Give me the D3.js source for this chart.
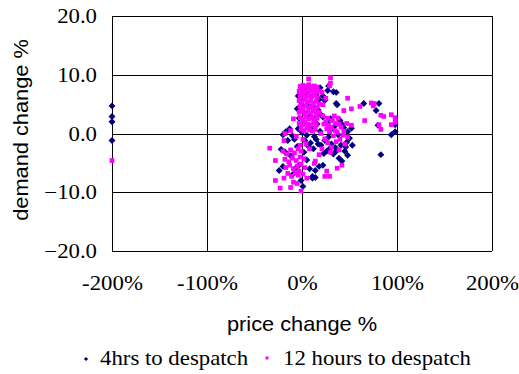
<!DOCTYPE html>
<html>
<head>
<meta charset="utf-8">
<script src="https://cdn.jsdelivr.net/npm/d3@7/dist/d3.min.js"></script>
<style>
  html, body { margin: 0; padding: 0; background: #fff; }
  svg { display: block; }
</style>
</head>
<body>
<svg id="chart" width="519" height="374"></svg>
<script>
// Tick values for both axes
const xTicks = [-200, -100, 0, 100, 200];
const yTicks = [20, 10, 0, -10, -20];

// Series names
const seriesNames = ["4hrs to despatch", "12 hours to despatch"];

// 4 hours to despatch: [price change %, demand change %]
const fourHours = [
  [-200, 4.7], [-200, 2.9], [-200, 2.0], [-200, -1.2],
  [0, 7.8], [3, 7.6], [8, 7.8], [13, 7.7], [19, 7.8], [27, 7.3], [28, 8.1], [33, 7.1], [36, 7.0],
  [0, 6.5], [-2, 5.5], [5, 6.8], [10, 6.2], [15, 6.6], [18, 5.8], [24, 5.6], [22, 6.4],
  [1, 4.6], [6, 5.0], [12, 4.4], [17, 4.0], [3, 3.4], [9, 3.0], [14, 2.5], [20, 3.2], [-3, 2.6],
  [2, 1.8], [7, 1.2], [11, 0.9], [16, 1.6], [-4, 0.8], [0, 0.2], [5, -0.3], [13, -0.5], [19, 0.4],
  [3, -1.2], [9, -1.6], [15, -1.0], [7, -2.2], [12, -2.6], [17, -1.8], [-5, 4.2], [-4, 6.4],
  [-17, 0.3], [-13, 0.8], [-10, -0.4], [-15, -1.2], [-8, -1.0], [-20, -0.2],
  [22, 2.8], [26, 1.9], [30, 2.5], [36, 5.1], [37, 4.9], [40, 2.2], [44, 1.0], [48, 0.3],
  [50, -0.8], [53, -2.0], [47, -1.5], [45, -3.0], [48, -3.7], [42, -4.7], [39, -4.2], [35, -2.4],
  [31, -1.8], [28, -0.6], [24, -1.2], [20, -2.0], [26, -3.0], [33, -3.5], [38, -0.2], [42, 1.6],
  [46, -2.3], [52, 0.9], [30, 0.6], [34, 1.2], [41, -2.0], [36, -3.0], [29, -2.6], [23, -3.4],
  [22, -5.4], [14, -6.3], [11, -7.3], [18, -5.6], [14, -7.5], [11, -7.6], [8, -6.0], [5, -4.5],
  [2, -3.2], [-1, -8.0], [-3, -5.4], [-7, -5.9], [-20, -5.6], [-24, -6.3], [-18, -3.1], [-22, -2.7],
  [-12, -3.8], [-5, -2.2], [1, -9.0], [-10, -7.0],
  [65, 5.1], [81, 5.1], [78, 3.9], [80, 1.4], [98, 1.5], [98, 0.3], [94, -0.2], [83, -3.6]
];

// 12 hours to despatch: [price change %, demand change %]
const twelveHours = [
  [-200, -4.6],
  [-2, 8.0], [1, 8.2], [4, 8.0], [7, 8.3], [10, 8.0], [13, 8.1], [16, 7.9], [7, 9.3],
  [-3, 7.2], [0, 7.4], [3, 7.1], [6, 7.5], [9, 7.2], [12, 7.4], [15, 7.0], [18, 7.2],
  [-2, 6.4], [1, 6.6], [4, 6.2], [7, 6.5], [10, 6.3], [13, 6.6], [16, 6.1],
  [-3, 5.6], [0, 5.3], [3, 5.7], [6, 5.4], [9, 5.6], [12, 5.2], [15, 5.5], [18, 5.0],
  [-2, 4.6], [1, 4.3], [4, 4.7], [7, 4.4], [10, 4.6], [13, 4.2], [16, 4.5],
  [-3, 3.6], [0, 3.8], [3, 3.4], [6, 3.7], [9, 3.5], [12, 3.8], [15, 3.3], [18, 3.6],
  [-2, 2.7], [1, 2.4], [4, 2.8], [7, 2.5], [10, 2.7], [13, 2.3], [16, 2.6],
  [-3, 1.7], [0, 1.5], [3, 1.9], [6, 1.6], [9, 1.4], [12, 1.8], [15, 1.5],
  [-1, 0.8], [2, 0.5], [5, 0.9], [8, 0.6], [11, 0.4], [14, 0.7],
  [30, 9.5], [30, 8.6], [29, 8.1], [22, 4.9], [25, 6.0], [21, 7.0],
  [-9, 2.5], [-12, 0.5], [-6, -0.5],
  [22, 3.0], [25, 2.0], [28, 1.4], [32, 2.2], [35, 1.7], [38, 2.6], [41, 1.1], [47, 1.7],
  [52, 1.4], [29, 0.3], [33, -0.4], [37, 0.2], [40, -1.0], [43, -0.3], [24, -0.9], [27, -1.6],
  [31, -2.3], [36, -1.4], [39, -2.8], [45, -1.8], [20, 0.0], [26, 0.8], [34, 3.0], [30, -3.2],
  [23, 1.6], [27, 2.6], [31, 1.0], [35, 0.5], [39, 1.6], [44, 0.4], [48, -0.6],
  [42, -5.4], [37, -5.9], [26, -6.4], [24, -7.3], [29, -7.3], [14, -4.7], [13, -5.1], [18, -3.6], [21, -2.6],
  [-34, -2.5], [-28, -4.6], [-28, -8.0], [-23, -9.3], [-18, 0.0], [-19, -1.2], [-5, -8.5], [-12, -9.2],
  [-4, -7.1], [-1, -9.8],
  [-20, -3.0], [-16, -3.5], [-12, -2.8], [-8, -3.3], [-4, -2.6], [-1, -3.0],
  [-18, -4.4], [-14, -4.8], [-10, -4.2], [-6, -4.6], [-2, -4.0], [2, -4.3],
  [-17, -5.8], [-13, -5.4], [-9, -6.0], [-5, -5.6], [-1, -5.2], [3, -5.8],
  [-15, -6.8], [-11, -7.3], [-7, -6.7], [-3, -6.4], [1, -6.9], [5, -7.6],
  [-19, -7.6], [-9, -8.3], [-2, -2.0], [4, -1.8], [8, -2.6], [1, -1.0],
  [44, 3.9], [52, 4.2], [61, 4.6], [66, 2.2], [73, 5.2], [76, 5.1], [75, 4.7], [83, 3.1],
  [86, 2.9], [94, 3.2], [98, 2.7], [81, 1.5], [83, 0.7], [94, 1.5], [98, 1.9], [48, 6.0]
];

const colors = ["#000080", "#ff00ff"];
const serif = '"Liberation Serif", "Times New Roman", serif';
const sans = '"Liberation Sans", Arial, sans-serif';
const serifStretch = 1.14;   // horizontal stretch of the serif labels
const sansStretch = 1.09;    // horizontal stretch of the axis titles

const svg = d3.select("#chart");
const plot = { left: 112, right: 492, top: 16, bottom: 251 };

const x = d3.scaleLinear().domain([-200, 200]).range([plot.left, plot.right]);
const y = d3.scaleLinear().domain([-20, 20]).range([plot.bottom, plot.top]);

// Gridlines and frame
const grid = svg.append("g").attr("shape-rendering", "crispEdges");
grid.selectAll(".vgrid").data(xTicks).join("line")
  .attr("x1", d => Math.round(x(d)) + 0.5).attr("x2", d => Math.round(x(d)) + 0.5)
  .attr("y1", plot.top).attr("y2", plot.bottom)
  .attr("stroke", "#000").attr("stroke-width", 1);
grid.selectAll(".hgrid").data(yTicks).join("line")
  .attr("x1", plot.left).attr("x2", plot.right)
  .attr("y1", d => Math.round(y(d)) + 0.5).attr("y2", d => Math.round(y(d)) + 0.5)
  .attr("stroke", "#000").attr("stroke-width", 1);

// X axis labels
const xAxis = svg.append("g")
  .attr("transform", `translate(0,${plot.bottom})`)
  .call(d3.axisBottom(x).tickValues(xTicks).tickSize(0).tickPadding(0).tickFormat(d => d + "%"));
xAxis.select(".domain").remove();
xAxis.attr("font-family", null).attr("font-size", null);
xAxis.selectAll("text")
  .attr("dy", null).attr("x", 0).attr("y", 39)
  .attr("transform", `scale(${serifStretch},1)`)
  .style("font-family", serif).style("font-size", "20px").attr("fill", "#000");

// Y axis labels
const yAxis = svg.append("g")
  .attr("transform", `translate(${plot.left},0)`)
  .call(d3.axisLeft(y).tickValues(yTicks).tickSize(0).tickPadding(0).tickFormat(d3.format(".1f")));
yAxis.select(".domain").remove();
yAxis.attr("font-family", null).attr("font-size", null);
yAxis.selectAll("text")
  .attr("dy", "0.33em").attr("x", -15 / serifStretch)
  .attr("transform", `scale(${serifStretch},1)`)
  .style("font-family", serif).style("font-size", "20px").attr("fill", "#000");

// Markers: navy diamonds, magenta squares
const diamond = d3.symbol().type(d3.symbolSquare).size(24);
const square = d3.symbol().type(d3.symbolSquare).size(22);

svg.append("g").selectAll("path").data(fourHours).join("path")
  .attr("d", diamond)
  .attr("transform", d => `translate(${x(d[0])},${y(d[1])}) rotate(45)`)
  .attr("fill", colors[0]);

svg.append("g").selectAll("path").data(twelveHours).join("path")
  .attr("d", square)
  .attr("transform", d => `translate(${x(d[0])},${y(d[1])})`)
  .attr("fill", colors[1]);

// Axis titles
svg.append("text")
  .attr("transform", `translate(302,331) scale(${sansStretch},1)`).attr("text-anchor", "middle")
  .style("font-family", sans).style("font-size", "20px").attr("fill", "#000")
  .text("price change %");
svg.append("text")
  .attr("transform", `translate(28,130) rotate(-90) scale(${sansStretch},1)`).attr("text-anchor", "middle")
  .style("font-family", sans).style("font-size", "20px").attr("fill", "#000")
  .text("demand change %");

// Legend
const legend = svg.append("g");
legend.append("path").attr("d", d3.symbol().type(d3.symbolSquare).size(9))
  .attr("transform", "translate(86,359) rotate(45)").attr("fill", colors[0]);
legend.append("text")
  .attr("transform", `translate(100,365) scale(${serifStretch},1)`)
  .style("font-family", serif).style("font-size", "20px").attr("fill", "#000")
  .text(seriesNames[0]);
legend.append("rect").attr("x", 265.5).attr("y", 356.5).attr("width", 3).attr("height", 3).attr("fill", colors[1]);
legend.append("text")
  .attr("transform", `translate(283,365) scale(${serifStretch},1)`)
  .style("font-family", serif).style("font-size", "20px").attr("fill", "#000")
  .text(seriesNames[1]);
</script>
</body>
</html>
